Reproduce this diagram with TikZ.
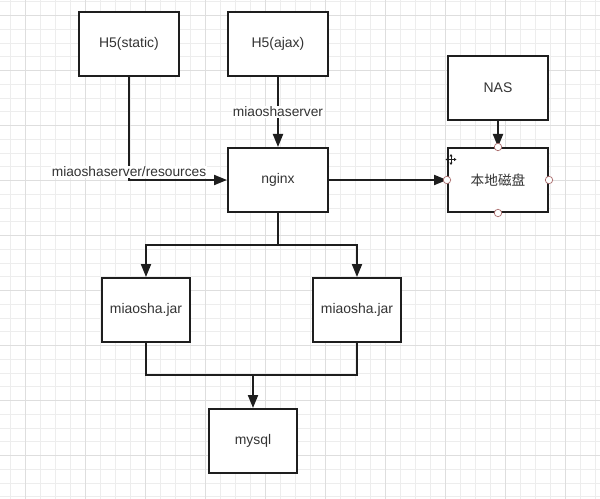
\documentclass[tikz,border=0pt]{standalone}
\usepackage{fontspec}
\setmainfont{Liberation Sans}
\newfontfamily\cjk{Noto Sans CJK SC}
\usepackage{xcolor}
\usepackage{tikz}
\usetikzlibrary{arrows.meta}

\definecolor{gridminor}{HTML}{EDEDED}
\definecolor{gridmajor}{HTML}{DEDEDE}
\definecolor{ink}{HTML}{1E1E1E}
\definecolor{txt}{HTML}{333333}
\definecolor{handlered}{HTML}{A86A6A}

\begin{document}
\begin{tikzpicture}[x=1bp,y=-1bp,
  box/.style={draw=ink,line width=2bp,fill=white,minimum width=100bp,minimum height=64bp,
    text=txt,font=\fontsize{14}{16}\selectfont},
  jarbox/.style={box,minimum width=88bp,minimum height=64bp},
  wire/.style={draw=ink,line width=2bp},
  arr/.style={wire,-{Triangle[length=13bp,width=10bp]}},
  lbl/.style={fill=white,inner sep=1pt,text=txt,font=\fontsize{13.8}{15}\selectfont},
  handle/.style={circle,draw=handlered,fill=white,line width=0.7pt,inner sep=0pt,minimum size=7.5pt}]
\useasboundingbox (0,0) rectangle (600,499);
\fill[white] (0,0) rectangle (600,499);
% background grid
\foreach \gx in {10,25,...,595} \draw[gridminor,line width=1bp] (\gx+0.5,0) -- (\gx+0.5,499);
\foreach \i in {0,...,36} \draw[gridminor,line width=1bp] (0,1.95+13.75*\i) -- (600,1.95+13.75*\i);
\foreach \gx in {25,85,...,565} \draw[gridmajor,line width=1bp] (\gx+0.5,0) -- (\gx+0.5,499);
\foreach \i in {0,...,9} \draw[gridmajor,line width=1bp] (0,15.7+55*\i) -- (600,15.7+55*\i);

% boxes
\node[box] (static) at (129,44) {H5(static)};
\node[box] (ajax) at (278,44) {H5(ajax)};
\node[box] (nas) at (498,88) {NAS};
\node[box] (nginx) at (278,180) {nginx};
\node[box,font=\cjk\fontsize{13.7}{16}\selectfont] (disk) at (498,180) {本地磁盘};
\node[jarbox] (jarA) at (146,310) {miaosha.jar};
\node[jarbox] (jarB) at (357,310) {miaosha.jar};
\node[jarbox] (mysql) at (253,441) {mysql};
\coordinate (split) at (278,245);
\coordinate (merge) at (253,375);

% connectors
\draw[arr] (static.south) |- (nginx.west) node[pos=0.5,lbl,yshift=8bp] {miaoshaserver/resources};
\draw[arr] (ajax) -- node[lbl] {miaoshaserver} (nginx);
\draw[arr] (nginx) -- (disk);
\draw[arr] (nas) -- (disk);
\draw[wire] (nginx.south) -- (split);
\draw[arr] (split) -| (jarA.north);
\draw[arr] (split) -| (jarB.north);
\draw[wire] (jarA.south) |- (merge);
\draw[wire] (jarB.south) |- (merge);
\draw[arr] (merge) -- (mysql.north);

% selection handles
\foreach \side in {north,south,east,west} \node[handle] (h\side) at (disk.\side) {};
\draw[ink,line width=0.8pt,{Triangle[length=2.5pt,width=3pt]}-{Triangle[length=2.5pt,width=3pt]}] (445.5,159.5) -- (456.5,159.5);
\draw[ink,line width=0.8pt,{Triangle[length=2.5pt,width=3pt]}-{Triangle[length=2.5pt,width=3pt]}] (451,154) -- (451,165);
\end{tikzpicture}
\end{document}
